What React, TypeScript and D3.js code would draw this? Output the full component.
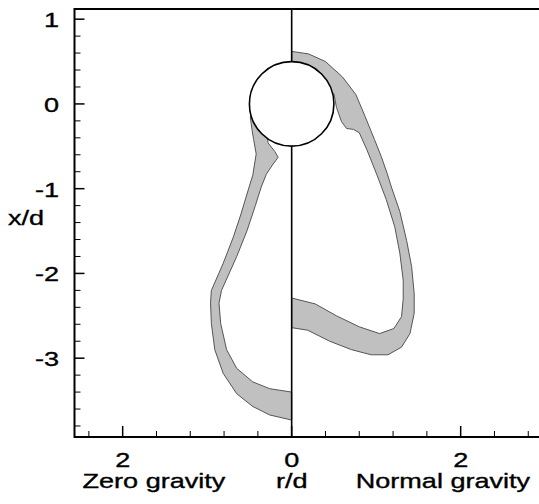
import React from "react";
import * as d3 from "d3";

const W = 539;
const H = 504;

// axis domains (data units: r/d horizontally, x/d vertically)
const xDomain: [number, number] = [-2.57, 3.0];
const yDomain: [number, number] = [-3.93, 1.12];

const xMajorTicks = [-2, 0, 2];
const xMinorTicks = [-2.4, -1.6, -1.2, -0.8, -0.4, 0.4, 0.8, 1.2, 1.6, 2.4, 2.8];
const yMajorTicks = [1, 0, -1, -2, -3];
const yMinorTicks = [0.8, 0.6, 0.4, 0.2, -0.2, -0.4, -0.6, -0.8, -1.2, -1.4, -1.6, -1.8, -2.2, -2.4, -2.6, -2.8, -3.2, -3.4, -3.6, -3.8];

// Zero gravity (left, mirrored r) band: outer edge top -> bottom
const leftOuter: [number, number][] = [
  [-0.38, -0.05], [-0.49, -0.15], [-0.47, -0.3], [-0.45, -0.42], [-0.42, -0.59], [-0.46, -0.84],
  [-0.54, -1.1], [-0.6, -1.3], [-0.69, -1.57], [-0.81, -1.88], [-0.95, -2.2], [-0.96, -2.35],
  [-0.95, -2.59], [-0.91, -2.9], [-0.81, -3.18], [-0.65, -3.42], [-0.46, -3.57], [-0.26, -3.67], [0, -3.73],
];
// inner edge bottom -> top
const leftInner: [number, number][] = [
  [0, -3.4], [-0.26, -3.36], [-0.46, -3.28], [-0.65, -3.12], [-0.77, -2.9], [-0.84, -2.59],
  [-0.86, -2.35], [-0.83, -2.2], [-0.65, -1.8], [-0.53, -1.5], [-0.43, -1.2], [-0.36, -0.98],
  [-0.3, -0.83], [-0.22, -0.71], [-0.16, -0.63], [-0.2, -0.56], [-0.28, -0.46], [-0.3, -0.2],
];

// Normal gravity (right) band: outer edge top -> bottom
const rightOuter: [number, number][] = [
  [0, 0.62], [0.2, 0.59], [0.4, 0.5], [0.6, 0.32], [0.76, 0.11], [0.87, -0.15], [0.98, -0.42],
  [1.06, -0.62], [1.13, -0.82], [1.18, -0.98], [1.28, -1.27], [1.36, -1.61], [1.42, -1.92],
  [1.45, -2.24], [1.45, -2.47], [1.4, -2.71], [1.3, -2.87], [1.14, -2.96], [0.94, -2.96],
  [0.71, -2.9], [0.45, -2.8], [0.19, -2.67], [0, -2.64],
];
// inner edge bottom -> top
const rightInner: [number, number][] = [
  [0, -2.29], [0.28, -2.36], [0.53, -2.5], [0.8, -2.63], [1.04, -2.71], [1.21, -2.65],
  [1.3, -2.51], [1.32, -2.3], [1.32, -2.08], [1.28, -1.76], [1.22, -1.45], [1.12, -1.13],
  [1.01, -0.84], [0.89, -0.54], [0.8, -0.34], [0.73, -0.3], [0.65, -0.29], [0.59, -0.21],
  [0.53, -0.04], [0.5, 0.12], [0.2, 0.2], [0, 0.3],
];

const circleCenter: [number, number] = [0, 0];
const circleRadius = 0.5;

const bottomLabels = [
  { text: "Zero gravity", r: -1.63 },
  { text: "r/d", r: 0 },
  { text: "Normal gravity", r: 1.79 },
];

const FONT = "'Liberation Sans', Arial, sans-serif";
const FS = 20.5;
const SX = 1.32;

export default function App() {
  const left = 74.5;
  const bottom = 437;
  const top = 9;
  const pxPerUnit = 84.5;
  const x = d3.scaleLinear().domain(xDomain).range([left, left + (xDomain[1] - xDomain[0]) * pxPerUnit]);
  const y = d3.scaleLinear().domain(yDomain).range([bottom, top]);

  const line = d3
    .line<[number, number]>()
    .x((d) => x(d[0]))
    .y((d) => y(d[1]))
    .curve(d3.curveLinearClosed);

  const leftBand = line([...leftOuter, ...leftInner]) || "";
  const rightBand = line([...rightOuter, ...rightInner]) || "";

  const txt = (
    key: string,
    s: string,
    tx: number,
    ty: number,
    anchor: "start" | "middle" | "end"
  ) => (
    <g key={key} transform={`translate(${tx},${ty}) scale(${SX},1)`}>
      <text
        x={0}
        y={0}
        textAnchor={anchor}
        fontFamily={FONT}
        fontSize={FS}
        fill="#000"
        stroke="#000"
        strokeWidth={0.35}
      >
        {s}
      </text>
    </g>
  );

  return (
    <svg
      width={W}
      height={H}
      style={{ position: "absolute", left: 0, top: 0, background: "#fff" }}
    >
      <rect x={0} y={0} width={W} height={H} fill="#fff" />
      <path d={leftBand} fill="#c0c0c0" stroke="#555" strokeWidth={1} strokeLinejoin="round" />
      <path d={rightBand} fill="#c0c0c0" stroke="#555" strokeWidth={1} strokeLinejoin="round" />
      {/* symmetry axis */}
      <line x1={x(0)} x2={x(0)} y1={top} y2={bottom} stroke="#000" strokeWidth={1.6} />
      {/* sphere */}
      <circle
        cx={x(circleCenter[0])}
        cy={y(circleCenter[1])}
        r={x(circleRadius) - x(0)}
        fill="#fff"
        stroke="#000"
        strokeWidth={1.6}
      />
      {/* ticks */}
      {yMajorTicks.map((t) => (
        <line key={"ym" + t} x1={left} x2={left + 10} y1={y(t)} y2={y(t)} stroke="#000" strokeWidth={1.5} />
      ))}
      {yMinorTicks.map((t) => (
        <line key={"yn" + t} x1={left} x2={left + 6} y1={y(t)} y2={y(t)} stroke="#000" strokeWidth={1} />
      ))}
      {xMajorTicks.map((t) => (
        <line key={"xm" + t} x1={x(t)} x2={x(t)} y1={bottom} y2={bottom - 11} stroke="#000" strokeWidth={1.5} />
      ))}
      {xMinorTicks.map((t) => (
        <line key={"xn" + t} x1={x(t)} x2={x(t)} y1={bottom} y2={bottom - 6} stroke="#000" strokeWidth={1} />
      ))}
      {/* frame */}
      <path
        d={`M${W + 5},${top} H${left} V${bottom} H${W + 5}`}
        fill="none"
        stroke="#000"
        strokeWidth={2}
      />
      {/* tick labels */}
      {yMajorTicks.map((t) => txt("yl" + t, String(t), 59, y(t) + 8, "end"))}
      {xMajorTicks.map((t) => txt("xl" + t, String(Math.abs(t)), x(t), 467, "middle"))}
      {bottomLabels.map((b) => txt("bl" + b.text, b.text, x(b.r), 488, "middle"))}
      {txt("ylab", "x/d", 26, 225, "middle")}
    </svg>
  );
}
